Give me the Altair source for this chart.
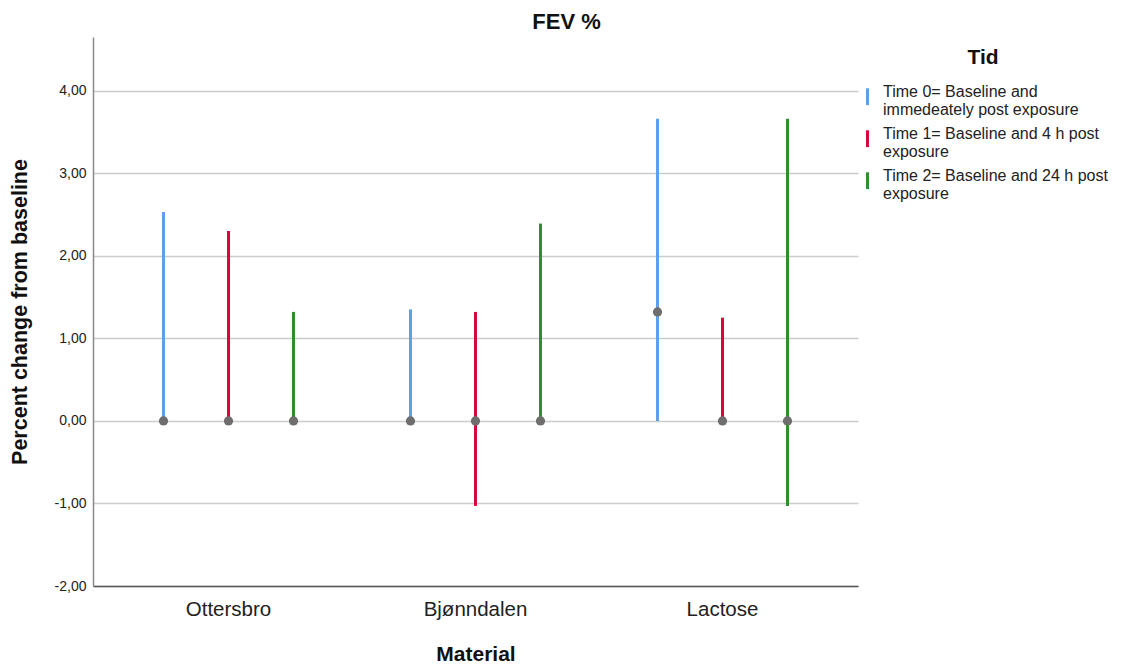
import altair as alt
import pandas as pd

# Material groups and measurement times
materials = ["Ottersbro", "Bjønndalen", "Lactose"]
time_lines = [
    ["Time 0= Baseline and", "immedeately post exposure"],
    ["Time 1= Baseline and 4 h post", "exposure"],
    ["Time 2= Baseline and 24 h post", "exposure"],
]
times = [" ".join(t) for t in time_lines]

# Range (min to max) and median of percent change per material and time
low = {
    "Ottersbro": [0.0, 0.0, 0.0],
    "Bjønndalen": [0.0, -1.03, 0.0],
    "Lactose": [0.0, 0.0, -1.03],
}
high = {
    "Ottersbro": [2.53, 2.30, 1.32],
    "Bjønndalen": [1.35, 1.32, 2.39],
    "Lactose": [3.66, 1.25, 3.66],
}
median = {
    "Ottersbro": [0.0, 0.0, 0.0],
    "Bjønndalen": [0.0, 0.0, 0.0],
    "Lactose": [1.32, 0.0, 0.0],
}

rows = []
for m in materials:
    for i, t in enumerate(times):
        rows.append({"Material": m, "Tid": t, "low": low[m][i],
                     "high": high[m][i], "median": median[m][i]})
df = pd.DataFrame(rows)

colors = ["#5d9fea", "#d8063f", "#2f8e2f"]
FONT = "Liberation Sans"

# Legend labels wrapped onto two lines
label_expr = " : ".join(
    f"datum.label == '{t}' ? {[l for l in lines]}"
    for t, lines in zip(times, time_lines)
) + " : datum.label"

x_enc = alt.X(
    "Material:N",
    sort=materials,
    scale=alt.Scale(paddingInner=0, paddingOuter=0.0486),
    axis=alt.Axis(
        title="Material", labelAngle=0, ticks=False, domainColor="#555555",
        domainWidth=1.5, labelFontSize=20.5, labelColor="#222222", labelPadding=13,
        titleFontSize=21, titleFontWeight="bold", titleColor="#111111",
        titlePadding=24, labelFont=FONT, titleFont=FONT,
    ),
)
xoff = alt.XOffset("Tid:N", sort=times,
                   scale=alt.Scale(paddingInner=0, paddingOuter=0.4))

y_scale = alt.Scale(domain=[-2, 4.65], nice=False, zero=False)

rules = alt.Chart(df).mark_rule(strokeWidth=3, strokeCap="butt").encode(
    x=x_enc,
    xOffset=xoff,
    y=alt.Y(
        "low:Q", scale=y_scale,
        axis=alt.Axis(
            title="Percent change from baseline", values=[-2, -1, 0, 1, 2, 3, 4],
            labelExpr="replace(replace(format(datum.value, '.2f'), '.', ','), '\u2212', '-')",
            ticks=False, grid=True, gridColor="#cccccc", gridWidth=1.5,
            domainColor="#8a8a8a", domainWidth=1.5, labelFontSize=14,
            labelColor="#222222", labelPadding=7, titleFontSize=21.5,
            titleFontWeight="bold", titleColor="#111111", titlePadding=23,
            labelFont=FONT, titleFont=FONT,
        ),
    ),
    y2="high:Q",
    color=alt.Color(
        "Tid:N", sort=times, scale=alt.Scale(domain=times, range=colors),
        legend=alt.Legend(
            title="Tid", orient="none", legendX=765, legendY=10,
            titleFontSize=21, titleFontWeight="bold", titleColor="#111111",
            titleAnchor="middle", titlePadding=14, titleFont=FONT,
            labelFont=FONT, labelFontSize=16, labelColor="#222222",
            labelLimit=400, labelOffset=6, labelExpr=label_expr,
            symbolType="M0,-0.4L0,1.7", symbolSize=256, symbolStrokeWidth=3,
            rowPadding=6, padding=0,
        ),
    ),
)

points = alt.Chart(df).mark_point(
    filled=True, size=85, color="#6e6e6e", opacity=1
).encode(
    x=alt.X("Material:N", sort=materials),
    xOffset=xoff,
    y=alt.Y("median:Q", scale=y_scale),
)

chart = alt.layer(rules, points).properties(
    width=765,
    height=549,
    background="white",
    title=alt.TitleParams(
        "FEV %", anchor="middle", frame="group", dx=91, offset=3,
        fontSize=22, fontWeight="bold", color="#111111", font=FONT,
    ),
    autosize=alt.AutoSizeParams(type="none"),
    padding={"left": 93, "top": 37, "right": 279, "bottom": 80},
).configure_view(strokeWidth=0)

chart.save("out.html", embed_options={"renderer": "svg", "actions": False})
